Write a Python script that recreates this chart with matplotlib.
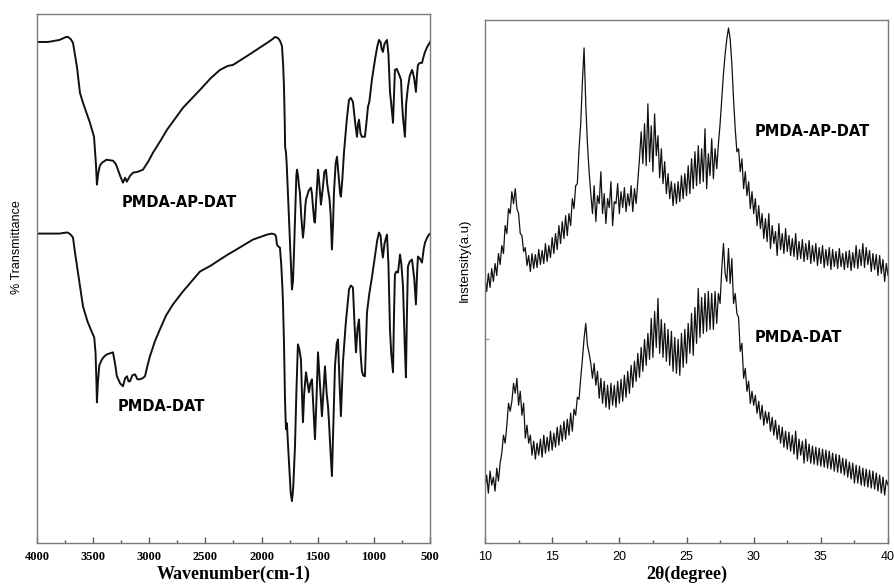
import numpy as np
import matplotlib
matplotlib.use('Agg')
import matplotlib.pyplot as plt

# FTIR, wavenumber in cm-1, transmittance in arbitrary units
wn_ap = [4000, 3900, 3800, 3740, 3724, 3700, 3679, 3644, 3617, 3590, 3528, 3492, 3475, 3466, 3455, 3440,
         3421, 3380, 3323, 3300, 3288, 3260, 3234, 3215, 3200, 3190, 3170, 3145, 3100, 3056, 3010, 2967,
         2900, 2842, 2700, 2548, 2450, 2370, 2300, 2254, 2100, 1952, 1900, 1880, 1854, 1835, 1818, 1808,
         1800, 1793, 1790, 1782, 1776, 1765, 1750, 1738, 1729, 1720, 1711, 1698, 1690, 1684, 1675, 1667,
         1658, 1645, 1631, 1620, 1610, 1604, 1580, 1560, 1551, 1542, 1530, 1524, 1515, 1497, 1485, 1471,
         1455, 1440, 1426, 1415, 1408, 1395, 1385, 1373, 1363, 1355, 1340, 1328, 1315, 1300, 1293, 1280,
         1266, 1240, 1221, 1205, 1186, 1165, 1150, 1140, 1132, 1118, 1106, 1079, 1065, 1052, 1040, 1017,
         990, 970, 954, 940, 930, 919, 905, 883, 870, 856, 845, 829, 820, 812, 795, 785,
         770, 758, 748, 740, 723, 712, 696, 680, 660, 651, 640, 625, 615, 607, 590, 571,
         555, 544, 525, 509, 500]
t_ap = [502, 502, 504, 507, 507, 505, 501, 477, 451, 441, 421, 407, 380, 359, 370, 378,
        381, 384, 383, 380, 377, 368, 361, 366, 362, 364, 368, 371, 372, 374, 382, 391,
        403, 414, 436, 454, 466, 474, 478, 479, 490, 501, 505, 507, 506, 503, 498, 480,
        457, 420, 397, 391, 380, 350, 310, 275, 254, 262, 291, 340, 368, 374, 368, 358,
        351, 325, 306, 318, 338, 344, 353, 356, 350, 337, 322, 321, 340, 374, 360, 339,
        355, 372, 374, 360, 354, 345, 330, 294, 320, 351, 380, 387, 370, 350, 347, 365,
        391, 425, 444, 446, 442, 420, 407, 420, 424, 410, 407, 407, 422, 437, 442, 464,
        484, 497, 504, 502, 495, 492, 500, 504, 490, 452, 440, 421, 450, 474, 475, 472,
        468, 464, 440, 426, 407, 440, 457, 468, 474, 471, 465, 452, 470, 479, 481, 481,
        488, 492, 497, 500, 502]

wn_dat = [4000, 3900, 3800, 3740, 3724, 3700, 3679, 3660, 3635, 3610, 3590, 3550, 3510, 3490, 3478, 3470,
          3466, 3458, 3445, 3421, 3400, 3377, 3350, 3323, 3305, 3288, 3260, 3234, 3215, 3198, 3185, 3172,
          3150, 3127, 3105, 3083, 3060, 3038, 3015, 2994, 2950, 2905, 2850, 2789, 2700, 2548, 2450, 2397,
          2300, 2254, 2150, 2076, 1950, 1907, 1880, 1871, 1863, 1850, 1836, 1825, 1815, 1809, 1800, 1791,
          1786, 1782, 1774, 1765, 1750, 1740, 1729, 1718, 1702, 1690, 1676, 1665, 1649, 1640, 1631, 1620,
          1604, 1590, 1578, 1565, 1551, 1540, 1524, 1512, 1497, 1480, 1462, 1450, 1435, 1420, 1408, 1399,
          1385, 1373, 1360, 1346, 1330, 1319, 1305, 1293, 1285, 1275, 1250, 1221, 1205, 1186, 1172, 1159,
          1145, 1132, 1118, 1106, 1095, 1079, 1070, 1061, 1040, 1017, 990, 970, 954, 940, 930, 919,
          905, 883, 870, 860, 856, 845, 829, 820, 812, 800, 785, 775, 767, 755, 740, 725,
          714, 705, 696, 680, 660, 640, 625, 615, 607, 590, 571, 555, 544, 525, 509, 500]
t_dat = [310, 310, 310, 311, 311, 309, 306, 290, 271, 252, 237, 222, 211, 206, 190, 160,
         141, 160, 178, 184, 187, 189, 190, 191, 180, 167, 160, 157, 165, 167, 162, 162,
         168, 169, 164, 164, 165, 167, 178, 187, 202, 214, 228, 239, 252, 272, 278, 282,
         289, 292, 299, 304, 309, 310, 309, 307, 299, 297, 296, 280, 258, 241, 200, 144,
         125, 114, 120, 100, 70, 50, 42, 55, 97, 150, 199, 195, 184, 150, 121, 150,
         171, 160, 151, 160, 164, 140, 104, 140, 191, 160, 127, 150, 177, 150, 137, 121,
         90, 67, 120, 177, 200, 204, 160, 127, 150, 181, 220, 254, 258, 256, 220, 191,
         215, 224, 190, 172, 168, 167, 200, 231, 250, 266, 287, 303, 311, 308, 295, 286,
         300, 309, 280, 230, 214, 190, 171, 230, 269, 272, 271, 280, 289, 280, 257, 200,
         166, 230, 277, 282, 284, 265, 239, 270, 287, 285, 281, 295, 301, 306, 309, 310]

# XRD, 2theta from 10 to 40 degree every 0.125, intensity in arbitrary units
theta = np.linspace(10, 40, 241)
i_ap = [266, 252, 270, 256, 275, 262, 280, 268,
        290, 279, 298, 290, 318, 310, 335, 330,
        352, 340, 355, 335, 330, 310, 308, 292,
        296, 278, 288, 272, 290, 275, 289, 276,
        294, 279, 293, 280, 300, 282, 298, 286,
        306, 290, 310, 294, 318, 300, 322, 305,
        328, 308, 330, 318, 345, 335, 358, 360,
        395, 420, 462, 496, 440, 400, 372, 350,
        330, 358, 322, 348, 340, 372, 330, 350,
        320, 345, 336, 362, 318, 342, 340, 360,
        330, 352, 336, 356, 332, 350, 338, 358,
        332, 355, 340, 362, 385, 412, 380, 420,
        378, 440, 382, 418, 372, 430, 388, 408,
        366, 395, 360, 382, 350, 370, 345, 362,
        338, 360, 340, 362, 342, 368, 345, 370,
        348, 378, 350, 385, 355, 392, 358, 398,
        360, 395, 362, 415, 355, 390, 368, 405,
        365, 395, 375, 400, 420, 445, 470, 490,
        505, 516, 505, 480, 445, 415, 392, 395,
        372, 385, 355, 372, 348, 362, 335, 352,
        330, 345, 318, 338, 315, 330, 305, 325,
        302, 330, 295, 318, 300, 312, 288, 320,
        294, 310, 290, 315, 292, 308, 288, 305,
        287, 310, 284, 302, 285, 304, 282, 300,
        284, 303, 280, 298, 282, 300, 278, 296,
        280, 298, 276, 294, 278, 296, 274, 294,
        277, 292, 275, 295, 277, 290, 274, 292,
        276, 293, 273, 291, 276, 298, 275, 294,
        278, 300, 276, 296, 279, 293, 272, 290,
        274, 289, 268, 288, 270, 284, 262, 280,
        268]
i_dat = [55, 68, 50, 72, 58, 66, 52, 75,
         62, 80, 90, 108, 100, 118, 140, 132,
         142, 160, 150, 165, 138, 152, 128, 140,
         105, 118, 100, 108, 88, 102, 84, 100,
         88, 104, 86, 108, 90, 106, 92, 112,
         93, 110, 96, 116, 98, 118, 102, 122,
         104, 124, 108, 130, 112, 134, 128, 146,
         144, 165, 184, 205, 220, 198, 190, 180,
         165, 180, 158, 172, 145, 165, 140, 162,
         136, 158, 134, 160, 138, 158, 136, 162,
         140, 164, 142, 168, 146, 172, 150, 178,
         156, 182, 162, 190, 166, 196, 172, 204,
         178, 210, 184, 225, 186, 232, 196, 245,
         190, 224, 186, 220, 182, 214, 178, 212,
         172, 206, 170, 204, 168, 210, 176, 214,
         180, 220, 190, 230, 188, 236, 200, 255,
         206, 246, 210, 250, 212, 252, 214, 250,
         214, 252, 220, 250, 240, 275, 300, 270,
         262, 295, 260, 285, 240, 250, 230, 226,
         192, 200, 165, 175, 152, 162, 140, 152,
         138, 148, 130, 142, 124, 138, 118, 132,
         120, 131, 112, 126, 108, 123, 104, 118,
         100, 116, 96, 112, 94, 111, 92, 108,
         89, 112, 84, 104, 88, 102, 80, 104,
         82, 99, 80, 97, 79, 96, 78, 95,
         77, 94, 76, 93, 75, 92, 74, 90,
         72, 89, 71, 88, 70, 85, 68, 84,
         66, 81, 64, 80, 60, 78, 60, 77,
         58, 75, 57, 74, 56, 73, 55, 72,
         54, 70, 52, 68, 50, 66, 48, 63,
         58]

fig = plt.figure(figsize=(8.95, 5.86), dpi=100)
ax1 = fig.add_axes([0.0413, 0.0734, 0.4391, 0.9027])
ax2 = fig.add_axes([0.5419, 0.0734, 0.4503, 0.8925])

lc = '#111111'
ax1.plot(wn_ap, t_ap, c=lc, lw=1.4, solid_joinstyle='round')
ax1.plot(wn_dat, t_dat, c=lc, lw=1.4, solid_joinstyle='round')
ax1.set_xlim(4000, 500)
ax1.set_ylim(0, 530)
ax1.set_xticks(np.arange(4000, 499, -500))
ax1.set_xticks(np.arange(3750, 500, -500), minor=True)
ax1.set_yticks([])
for lab in ax1.get_xticklabels():
    lab.set_family('Liberation Serif')
    lab.set_weight('bold')
    lab.set_size(9)
ax1.set_xlabel('Wavenumber(cm-1)', family='Liberation Serif', weight='bold', fontsize=13, labelpad=2)
ax1.set_ylabel('% Transmittance', family='Liberation Sans', fontsize=9)
ax1.yaxis.set_label_coords(-0.035, 0.56)
ax1.text(3243, 341, 'PMDA-AP-DAT', fontsize=10.5, weight='bold', va='center', family='DejaVu Sans')
ax1.text(3279, 137, 'PMDA-DAT', fontsize=10.5, weight='bold', va='center', family='DejaVu Sans')

ax2.plot(theta, i_ap, c=lc, lw=0.9)
ax2.plot(theta, i_dat, c=lc, lw=0.9)
ax2.set_xlim(10, 40)
ax2.set_ylim(0, 524)
ax2.set_xticks(np.arange(10, 41, 5))
ax2.set_xticks(np.arange(12.5, 40, 5), minor=True)
ax2.set_yticks([204])
ax2.set_yticklabels([''])
for lab in ax2.get_xticklabels():
    lab.set_family('Liberation Sans')
    lab.set_size(9)
ax2.set_xlabel('2θ(degree)', family='Liberation Serif', weight='bold', fontsize=13, labelpad=2)
ax2.set_ylabel('Instensity(a.u)', family='Liberation Sans', fontsize=9.5)
ax2.yaxis.set_label_coords(-0.035, 0.54)
ax2.text(30.1, 412, 'PMDA-AP-DAT', fontsize=10.5, weight='bold', va='center', family='DejaVu Sans')
ax2.text(30.1, 206, 'PMDA-DAT', fontsize=10.5, weight='bold', va='center', family='DejaVu Sans')

for ax in (ax1, ax2):
    for s in ax.spines.values():
        s.set_color('#7a7a7a')
        s.set_linewidth(1.0)
    ax.tick_params(axis='x', which='major', direction='in', length=4, width=1, color='#555555', pad=6)
    ax.tick_params(axis='x', which='minor', direction='in', length=2, width=1, color='#555555')
    ax.tick_params(axis='y', direction='in', length=3, color='#999999')

fig.savefig('out.png', dpi=100)
